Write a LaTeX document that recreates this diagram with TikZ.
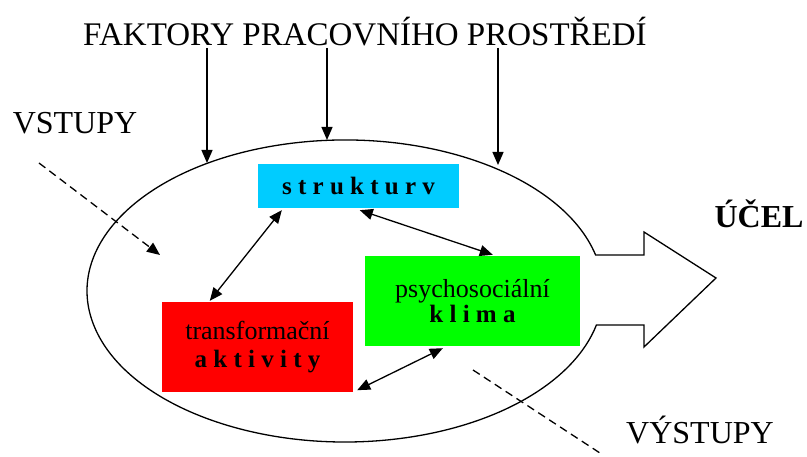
\documentclass[tikz,border=0pt]{standalone}
\usepackage{fontspec}
\setmainfont{Liberation Serif}
\usetikzlibrary{arrows.meta,calc}
\definecolor{cyanbox}{HTML}{00CCFF}
\definecolor{greenbox}{HTML}{00FF00}
\definecolor{redbox}{HTML}{FF0000}
\tikzset{
  big/.style={font=\fontsize{32}{38}\selectfont, inner sep=0pt},
  box/.style={inner sep=0pt, align=center, font=\fontsize{26}{28}\selectfont},
  tri/.style={-{Triangle[length=13pt,width=11pt]}, line width=1.3pt},
  dbl/.style={{Triangle[length=13pt,width=11pt]}-{Triangle[length=13pt,width=11pt]}, line width=1.3pt},
  dashline/.style={line width=1.3pt, dash pattern=on 8pt off 5pt},
  outline/.style={line width=1.3pt, line join=miter}
}
\newcommand{\bsp}[1]{{\fontsize{25}{28}\selectfont\bfseries #1}}
\begin{document}
\begin{tikzpicture}[x=1pt,y=-1pt]
\useasboundingbox (0,0) rectangle (807,457);
% ellipse with outgoing arrow
\draw[outline] (595.6,255) arc[start angle=-13.79, end angle=-346.99, x radius=258, y radius=151]
  -- (644,325) -- (644,347) -- (716,278) -- (644,232) -- (644,255) -- cycle;
% texts
\node[big, font=\fontsize{33}{38}\selectfont] (title) at (365,32) {FAKTORY PRACOVNÍHO PROSTŘEDÍ};
\node[big] (vstupy) at (75,123) {VSTUPY};
\node[big] (vystupy) at (700,430) {VÝSTUPY};
\node[big, font=\fontsize{32}{38}\selectfont\bfseries] (ucel) at (759,214) {ÚČEL};
% boxes
\node[box, fill=cyanbox, minimum width=201pt, minimum height=44pt] (struk) at (358.5,186) {\bsp{s t r u k t u r v}};
\node[box, fill=greenbox, minimum width=215pt, minimum height=90pt] (klima) at (472.5,301) {psychosociální\\[-3pt]\bsp{k l i m a}};
\node[box, fill=redbox, minimum width=191pt, minimum height=90pt] (aktiv) at (257.5,347) {transformační\\[0pt]\bsp{a k t i v i t y}};
% factor arrows
\coordinate (f1) at (207,48);
\coordinate (f2) at (327,48);
\coordinate (f3) at (498,48);
\coordinate (e1) at (207,163);
\coordinate (e2) at (327,140);
\coordinate (e3) at (498,165);
\draw[tri] (f1) -- (e1);
\draw[tri] (f2) -- (e2);
\draw[tri] (f3) -- (e3);
% inputs / outputs
\coordinate (in1) at (39,163);
\coordinate (in2) at (160,255);
\draw[dashline, -{Triangle[length=13pt,width=11pt]}] (in1) -- (in2);
\coordinate (out1) at (473,370);
\coordinate (out2) at (603,455);
\draw[dashline] (out1) -- (out2);
% double arrows
\draw[dbl] ($(struk.south west)+(24,2)$) -- ($(aktiv.north west)+(48,-1)$);
\draw[dbl] ($(struk.south west)+(102,2)$) -- ($(klima.north west)+(128,-1)$);
\draw[dbl] ($(klima.south west)+(78,2)$) -- ($(aktiv.south east)+(4,-2)$);
\end{tikzpicture}
\end{document}
